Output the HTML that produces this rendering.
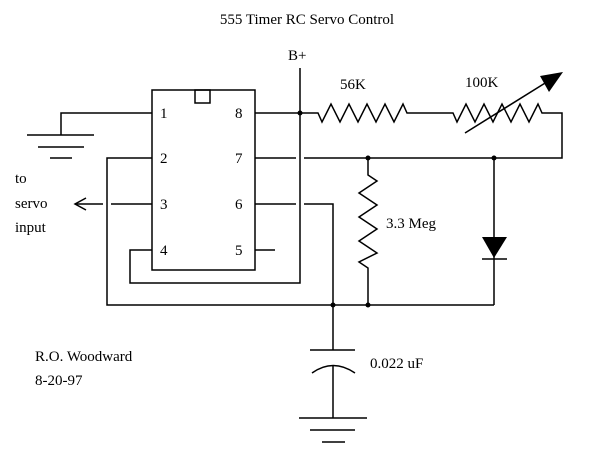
<!DOCTYPE html>
<html><head><style>body{margin:0;background:#fff}</style></head><body>
<svg width="600" height="465" xmlns="http://www.w3.org/2000/svg" font-family="Liberation Serif, serif" font-size="15" fill="#000">
<rect width="600" height="465" fill="#fff"/>
<g stroke="#000" stroke-width="1.5" fill="none">
<rect x="152" y="90" width="103" height="180"/>
<rect x="195" y="90" width="15" height="13"/>
<polyline points="152,113 61,113 61,135"/>
<line x1="27" y1="135" x2="94" y2="135"/><line x1="38" y1="147" x2="84" y2="147"/><line x1="50" y1="158" x2="72" y2="158"/>
<polyline points="152,158 107,158 107,305 494,305"/>
<line x1="152" y1="204" x2="111" y2="204"/><line x1="103" y1="204" x2="75" y2="204"/>
<polyline points="86,198 75,204 86,210"/>
<polyline points="152,250 130,250 130,283 300,283 300,68"/>
<line x1="255" y1="250" x2="275" y2="250"/>
<polyline points="255,113 318,113 322,122 331,104 340,122 349,104 358,122 367,104 376,122 385,104 394,122 403,104 407,113 453,113 457,122 466,104 475,122 484,104 493,122 502,104 511,122 520,104 529,122 538,104 542,113 562,113 562,158 304,158"/>
<line x1="296" y1="158" x2="255" y2="158"/>
<line x1="255" y1="204" x2="296" y2="204"/><polyline points="304,204 333,204 333,350"/>
<polyline points="368,158 368,175 377,181 359,193 377,205 359,217 377,229 359,241 377,253 359,262 368,268 368,305"/>
<line x1="494" y1="158" x2="494" y2="305"/>
<line x1="482" y1="259" x2="507" y2="259"/>
<line x1="310" y1="350" x2="355" y2="350"/>
<path d="M312,373 Q333,358 355,373"/>
<line x1="333" y1="365" x2="333" y2="418"/>
<line x1="299" y1="418" x2="367" y2="418"/><line x1="310" y1="430" x2="355" y2="430"/><line x1="322" y1="442" x2="345" y2="442"/>
<line x1="465" y1="133" x2="550" y2="80"/>
</g>
<polygon points="563,72 540,76 549,92"/>
<polygon points="482,237 507,237 494,258"/>
<g><circle cx="300" cy="113" r="2.5"/><circle cx="368" cy="158" r="2.5"/><circle cx="494" cy="158" r="2.5"/><circle cx="333" cy="305" r="2.5"/><circle cx="368" cy="305" r="2.5"/></g>
<text x="307" y="24" text-anchor="middle">555 Timer RC Servo Control</text>
<text x="288" y="60">B+</text>
<text x="340" y="89">56K</text>
<text x="465" y="87">100K</text>
<text x="160" y="118">1</text><text x="160" y="163">2</text><text x="160" y="209">3</text><text x="160" y="255">4</text>
<text x="235" y="118">8</text><text x="235" y="163">7</text><text x="235" y="209">6</text><text x="235" y="255">5</text>
<text x="15" y="183">to</text><text x="15" y="208">servo</text><text x="15" y="232">input</text>
<text x="386" y="228">3.3 Meg</text>
<text x="370" y="368">0.022 uF</text>
<text x="35" y="361">R.O. Woodward</text>
<text x="35" y="385">8-20-97</text>
</svg>
</body></html>
